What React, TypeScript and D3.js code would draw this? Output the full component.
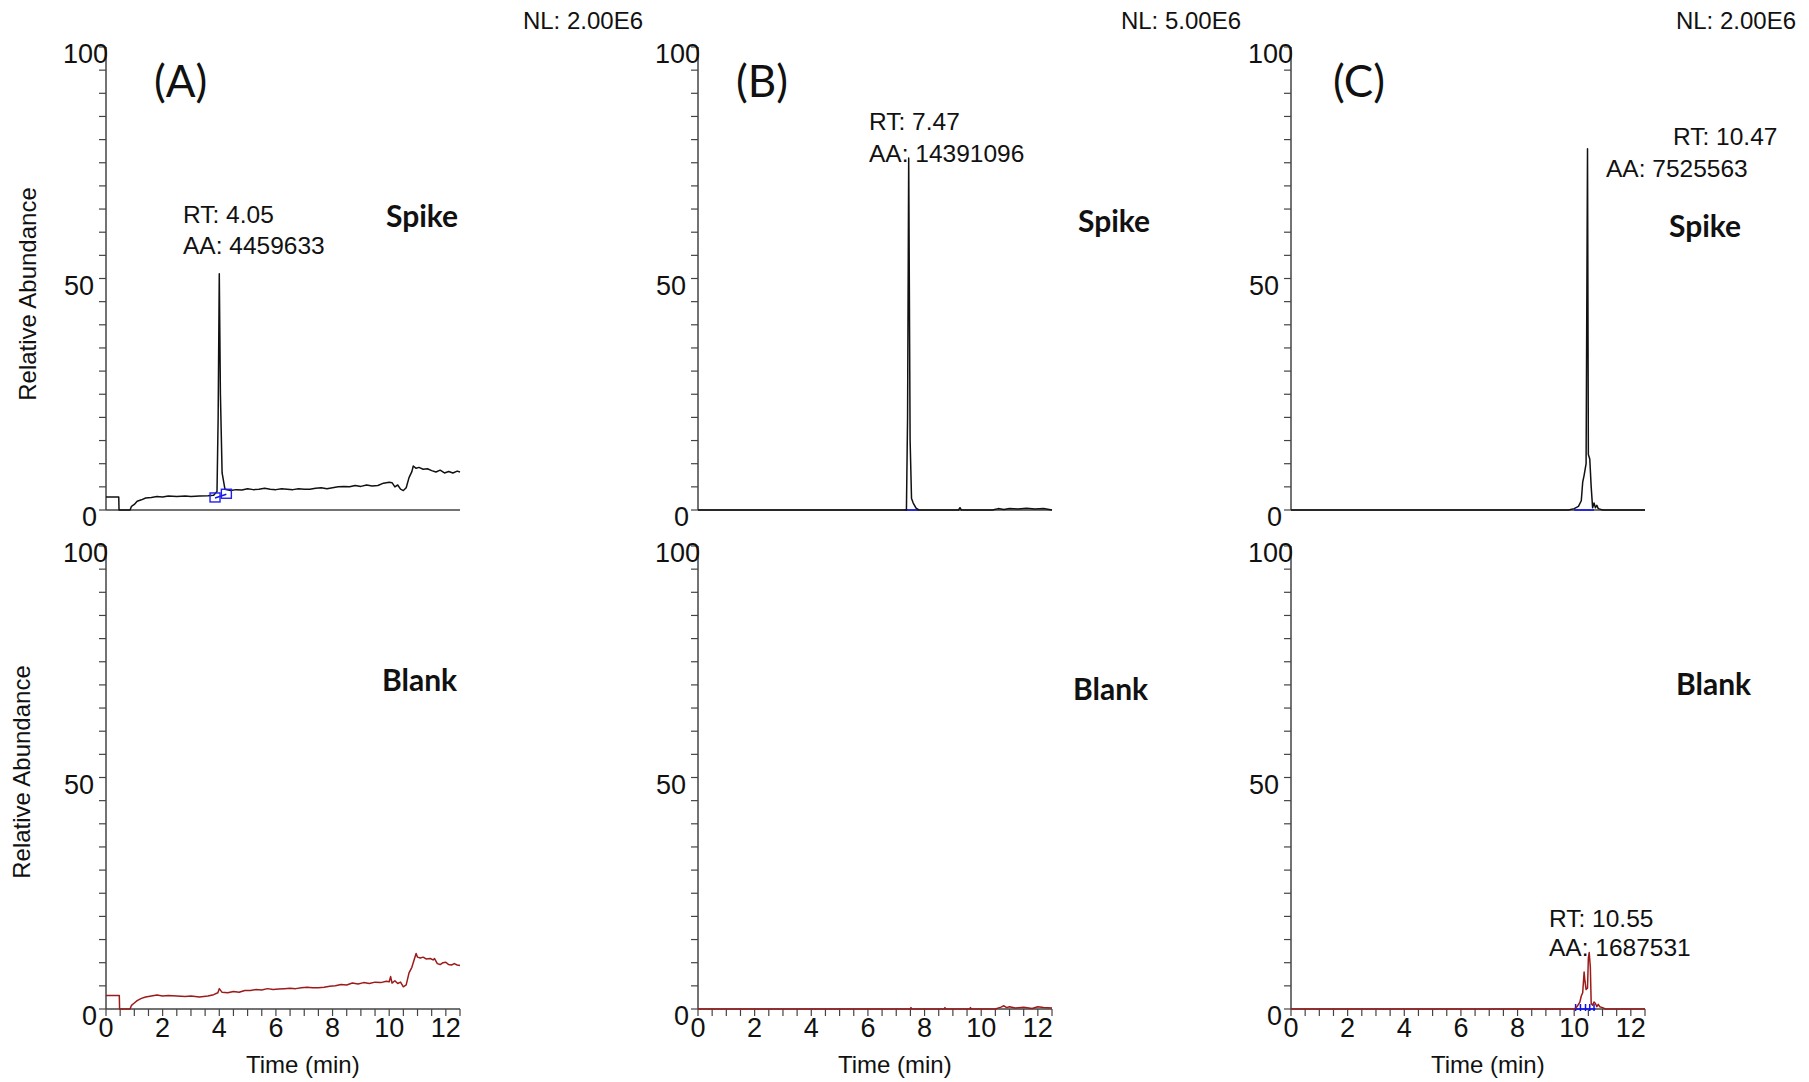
import React from 'react';
import * as d3 from 'd3';

// chromatogram traces, [time (min), relative abundance %]
const spikeA: [number, number][] = [
  [0, 2.8], [0.45, 2.8], [0.46, 0], [0.85, 0], [0.9, 0.8], [1.0, 1.2], [1.1, 1.9], [1.25, 2.2], [1.4, 2.6],
  [1.6, 2.7], [1.8, 2.9], [2.0, 2.8], [2.2, 3.0], [2.5, 2.9], [2.8, 3.0], [3.0, 2.9], [3.3, 3.0], [3.6, 3.1],
  [3.8, 3.2], [3.92, 4], [3.96, 20], [4.0, 51], [4.04, 25], [4.1, 8], [4.2, 4.5], [4.4, 4.2], [4.6, 4.4],
  [4.8, 4.3], [5.0, 4.6], [5.2, 4.4], [5.4, 4.5], [5.6, 4.7], [5.8, 4.5], [6.0, 4.4], [6.2, 4.6], [6.4, 4.5],
  [6.6, 4.4], [6.8, 4.6], [7.0, 4.5], [7.2, 4.5], [7.4, 4.7], [7.6, 4.8], [7.8, 4.6], [8.0, 4.8], [8.2, 5.0],
  [8.4, 5.1], [8.6, 5.0], [8.8, 5.3], [9.0, 5.1], [9.2, 5.4], [9.4, 5.2], [9.6, 5.3], [9.8, 5.8], [10.0, 6.0],
  [10.1, 5.9], [10.2, 5.0], [10.3, 5.4], [10.4, 4.5], [10.5, 4.2], [10.6, 4.8], [10.7, 7.0], [10.8, 8.3],
  [10.85, 9.5], [10.95, 9.0], [11.05, 9.2], [11.2, 8.8], [11.35, 8.9], [11.5, 8.5], [11.65, 8.2], [11.8, 8.6],
  [11.95, 8.0], [12.1, 8.3], [12.25, 8.0], [12.4, 8.4], [12.5, 8.2],
];
const blankA: [number, number][] = [
  [0, 2.9], [0.47, 2.9], [0.48, 0], [0.85, 0], [0.9, 0.8], [1.0, 1.3], [1.1, 1.8], [1.25, 2.3], [1.4, 2.6],
  [1.6, 2.8], [1.8, 3.0], [2.0, 2.8], [2.2, 2.9], [2.5, 2.8], [2.8, 2.7], [3.0, 2.8], [3.3, 2.6], [3.6, 2.8],
  [3.8, 3.1], [3.95, 3.5], [4.0, 4.4], [4.1, 3.6], [4.3, 3.5], [4.5, 3.8], [4.7, 3.6], [4.9, 4.0], [5.1, 4.0],
  [5.3, 4.2], [5.5, 4.1], [5.7, 4.4], [5.9, 4.2], [6.1, 4.3], [6.3, 4.4], [6.5, 4.5], [6.7, 4.4], [6.9, 4.6],
  [7.1, 4.7], [7.3, 4.6], [7.5, 4.6], [7.7, 4.7], [7.9, 4.9], [8.1, 5.0], [8.3, 5.3], [8.5, 5.2], [8.7, 5.6],
  [8.9, 5.4], [9.1, 5.7], [9.3, 5.5], [9.5, 5.8], [9.7, 5.7], [9.9, 6.0], [10.0, 5.9], [10.05, 7.0], [10.1, 5.6],
  [10.2, 6.1], [10.3, 5.5], [10.4, 5.8], [10.5, 4.8], [10.6, 5.2], [10.7, 7.8], [10.8, 9.0], [10.9, 11.0],
  [10.95, 12.0], [11.0, 11.2], [11.1, 11.0], [11.2, 11.2], [11.3, 10.8], [11.45, 10.9], [11.55, 10.6],
  [11.6, 10.9], [11.7, 9.8], [11.8, 9.6], [11.9, 10.0], [12.0, 10.1], [12.1, 9.6], [12.2, 9.5], [12.3, 9.8],
  [12.4, 9.5], [12.5, 9.4],
];
const spikeB: [number, number][] = [
  [0, 0], [7.36, 0], [7.4, 20], [7.44, 76], [7.49, 15], [7.54, 2.5], [7.6, 1.5], [7.7, 0.4], [7.8, 0],
  [9.2, 0], [9.25, 0.5], [9.3, 0], [10.4, 0], [10.6, 0.3], [10.8, 0.1], [11.0, 0.3], [11.3, 0.2], [11.6, 0.4],
  [11.9, 0.2], [12.2, 0.3], [12.5, 0],
];
const blankB: [number, number][] = [
  [0, 0], [7.5, 0], [7.52, 0.3], [7.55, 0], [8.7, 0], [8.72, 0.3], [8.75, 0], [9.6, 0], [9.62, 0.3], [9.65, 0],
  [10.5, 0], [10.7, 0.4], [10.8, 0.7], [10.9, 0.3], [11.0, 0.5], [11.2, 0.2], [11.5, 0.4], [11.8, 0.1],
  [12.0, 0.5], [12.2, 0.3], [12.5, 0.2],
];
const spikeC: [number, number][] = [
  [0, 0], [9.8, 0], [10.0, 0.3], [10.15, 0.8], [10.25, 2], [10.3, 6], [10.35, 7.5], [10.42, 10], [10.47, 78],
  [10.5, 12], [10.55, 11], [10.6, 5], [10.65, 0.5], [10.7, 1.5], [10.75, 0.5], [10.8, 1], [10.85, 0.3],
  [11.0, 0], [12.5, 0],
];
const blankC: [number, number][] = [
  [0, 0], [10.0, 0], [10.1, 0.5], [10.2, 1.5], [10.25, 2.8], [10.3, 3.5], [10.35, 8.0], [10.38, 6],
  [10.42, 4.2], [10.47, 4.5], [10.5, 11], [10.53, 12.2], [10.57, 9], [10.6, 1.2], [10.65, 0.8], [10.7, 1.5],
  [10.75, 1.2], [10.8, 0.5], [10.85, 1.0], [10.9, 0.5], [11.0, 0.3], [11.1, 0], [12.5, 0],
];

// integration baselines (blue)
const baseA: [number, number][] = [[3.85, 2.6], [4.25, 3.4]];
const baseB: [number, number][] = [[7.3, 0], [7.8, 0]];
const baseC: [number, number][] = [[10.0, 0], [10.7, 0]];
const baseCBlank: [number, number][] = [[10.05, 0], [10.75, 0]];
const blueTicksC = [10.05, 10.22, 10.4, 10.55, 10.7];

const panelLetters = ['(A)', '(B)', '(C)'];
const normLevels = ['NL: 2.00E6', 'NL: 5.00E6', 'NL: 2.00E6'];
const peakLabelsTop = [
  ['RT: 4.05', 'AA: 4459633'],
  ['RT: 7.47', 'AA: 14391096'],
  ['RT: 10.47', 'AA: 7525563'],
];
const peakLabelBlankC = ['RT: 10.55', 'AA: 1687531'];
const yTickLabels = [0, 50, 100];
const xTickLabels = [0, 2, 4, 6, 8, 10, 12];

const W = 1809;
const H = 1082;
const colX = [106, 698, 1291];
const plotW = 354;
const topY = [47, 510];
const botY = [546, 1009];
const SANS = '"Liberation Sans", Arial, sans-serif';
const CAL = 'Lato, "Open Sans", sans-serif';
const RED = '#9b1b1b';
// right edge of each y label relative to the axis (the 100 label touches it)
const yLabelGap: Record<number, number> = { 0: -9, 50: -12, 100: 2 };

function Panel({ x0, rows, data, color, xAxis, bases, ticks }: any) {
  const x = d3.scaleLinear().domain([0, 12.5]).range([x0, x0 + plotW]);
  const y = d3.scaleLinear().domain([0, 100]).range([rows[1], rows[0]]);
  const line = d3.line<[number, number]>().x(d => x(d[0])).y(d => y(d[1]));
  const minorY = d3.range(0, 101, 5);
  const minorX = d3.range(0, 12.51, 0.5);
  return (
    <g>
      <line x1={x0} x2={x0} y1={y(100)} y2={y(0)} stroke="#444" strokeWidth={1.5} />
      <line x1={x0} x2={x0 + plotW} y1={y(0)} y2={y(0)} stroke="#444" strokeWidth={1.5} />
      {minorY.map(v => (
        <line key={v} x1={x0 - 7} x2={x0} y1={y(v)} y2={y(v)} stroke="#444" strokeWidth={1.2} />
      ))}
      {yTickLabels.map(v => (
        <text key={v} x={x0 + yLabelGap[v]} y={y(v) + 16} textAnchor="end" fontFamily={SANS} fontSize={27} fill="#111">{v}</text>
      ))}
      {xAxis && minorX.map(v => (
        <line key={v} x1={x(v)} x2={x(v)} y1={y(0)} y2={y(0) + 7} stroke="#444" strokeWidth={1.2} />
      ))}
      {xAxis && xTickLabels.map(v => (
        <text key={v} x={x(v)} y={y(0) + 28} textAnchor="middle" fontFamily={SANS} fontSize={27} fill="#111">{v}</text>
      ))}
      {xAxis && (
        <text x={x(6.95)} y={y(0) + 64} textAnchor="middle" fontFamily={SANS} fontSize={24} fill="#111">Time (min)</text>
      )}
      {bases && bases.map((b: [number, number][], i: number) => (
        <path key={i} d={line(b) || ''} fill="none" stroke="#1010ee" strokeWidth={1.5} />
      ))}
      {ticks && ticks.map((t: number) => (
        <line key={t} x1={x(t)} x2={x(t)} y1={y(0) - 5} y2={y(0) + 2} stroke="#1010ee" strokeWidth={1.5} />
      ))}
      <path d={line(data) || ''} fill="none" stroke={color} strokeWidth={1.5} strokeLinejoin="round" />
    </g>
  );
}

export default function App() {
  const xA = d3.scaleLinear().domain([0, 12.5]).range([colX[0], colX[0] + plotW]);
  const yA = d3.scaleLinear().domain([0, 100]).range([topY[1], topY[0]]);
  const peakText = (t: string, px: number, py: number) => (
    <text x={px} y={py} fontFamily={SANS} fontSize={24.5} fill="#111">{t}</text>
  );
  return (
    <svg width={W} height={H} style={{ position: 'absolute', left: 0, top: 0, background: '#fff' }}>
      <rect width={W} height={H} fill="#fff" />
      {/* top row: spiked samples */}
      <Panel x0={colX[0]} rows={topY} data={spikeA} color="#111" bases={[baseA]} />
      <Panel x0={colX[1]} rows={topY} data={spikeB} color="#111" bases={[baseB]} />
      <Panel x0={colX[2]} rows={topY} data={spikeC} color="#111" bases={[baseC]} />
      {/* bottom row: blanks */}
      <Panel x0={colX[0]} rows={botY} data={blankA} color={RED} xAxis />
      <Panel x0={colX[1]} rows={botY} data={blankB} color={RED} xAxis />
      <Panel x0={colX[2]} rows={botY} data={blankC} color={RED} xAxis bases={[baseCBlank]} ticks={blueTicksC} />

      {/* integration boxes on peak A */}
      {baseA.map((p, i) => (
        <rect key={i} x={xA(p[0]) - 5} y={yA(p[1]) - 5} width={10} height={9} fill="none" stroke="#2020ee" strokeWidth={1.4} />
      ))}

      {normLevels.map((t, i) => (
        <text key={i} x={[643, 1241, 1796][i]} y={29} textAnchor="end" fontFamily={SANS} fontSize={24} fill="#111">{t}</text>
      ))}
      {panelLetters.map((t, i) => (
        <text key={i} x={[154, 736, 1333][i]} y={97} fontFamily={CAL} fontSize={44} fill="#111">{t}</text>
      ))}

      {peakText(peakLabelsTop[0][0], 183, 223)}
      {peakText(peakLabelsTop[0][1], 183, 254)}
      {peakText(peakLabelsTop[1][0], 869, 130)}
      {peakText(peakLabelsTop[1][1], 869, 162)}
      {peakText(peakLabelsTop[2][0], 1673, 145)}
      {peakText(peakLabelsTop[2][1], 1606, 177)}
      {peakText(peakLabelBlankC[0], 1549, 927)}
      {peakText(peakLabelBlankC[1], 1549, 956)}

      {[[386, 227], [1078, 232], [1669, 237]].map(([px, py], i) => (
        <text key={i} x={px} y={py} fontFamily={CAL} fontWeight="bold" fontSize={30} fill="#111">Spike</text>
      ))}
      {[[382, 691], [1073, 700], [1676, 695]].map(([px, py], i) => (
        <text key={i} x={px} y={py} fontFamily={CAL} fontWeight="bold" fontSize={30} fill="#111">Blank</text>
      ))}

      <text transform={`translate(36,294) rotate(-90)`} textAnchor="middle" fontFamily={SANS} fontSize={24} fill="#111">Relative Abundance</text>
      <text transform={`translate(30,772) rotate(-90)`} textAnchor="middle" fontFamily={SANS} fontSize={24} fill="#111">Relative Abundance</text>
    </svg>
  );
}
